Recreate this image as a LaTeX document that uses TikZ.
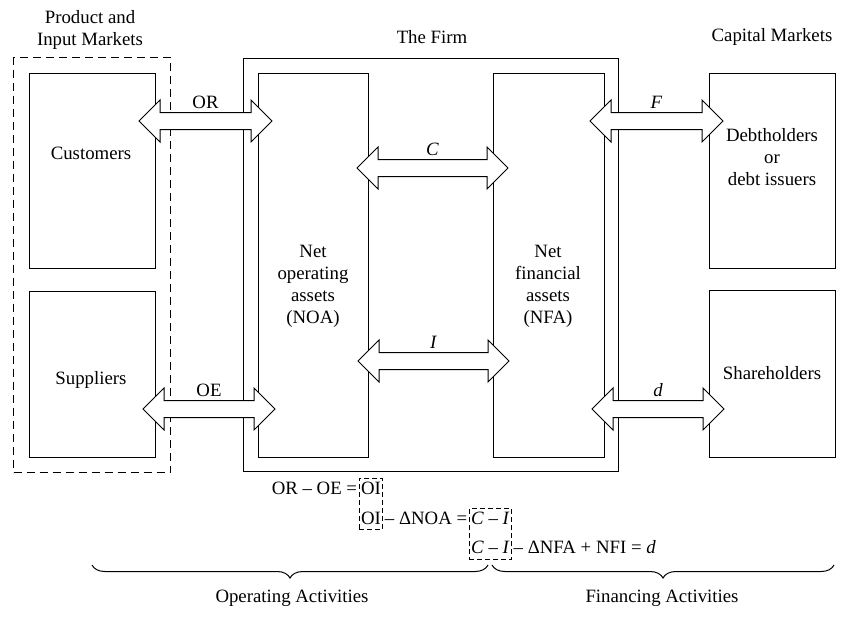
\documentclass[tikz,border=0pt]{standalone}
\usepackage{fontspec}
\setmainfont{Liberation Serif}
\usetikzlibrary{shapes.arrows, positioning, fit, decorations.pathreplacing}
\newcommand{\figfont}{\fontsize{9.4pt}{11pt}\selectfont}
\tikzset{
  base box/.style={
    rectangle, draw, line width=0.5pt, fill=white,
    inner sep=0pt, minimum width=#1
  },
  side box/.style={base box=63pt, minimum height=#1},
  asset box/.style={base box=#1, minimum height=192pt},
  frame/.style={rectangle, draw, line width=0.5pt, inner sep=7pt},
  market frame/.style={frame, dash pattern=on 4pt off 2.5pt, inner sep=7.5pt},
  flow/.style={
    double arrow, draw, fill=white, line width=0.5pt,
    double arrow tip angle=90, double arrow head extend=6.25pt,
    inner xsep=0pt, inner ysep=4pt, minimum width=20.5pt, minimum height=#1
  },
  lbl/.style={font=\figfont, align=center, inner sep=0pt},
  flow lbl/.style={lbl, above=1.5pt of #1.north},
  eqn/.style={font=\figfont, inner sep=0.8pt, text height=6.8pt, text depth=1.6pt},
  eqn box/.style={rectangle, draw, dash pattern=on 2.5pt off 1.5pt, line width=0.5pt, inner sep=0pt},
  activity/.style={decorate, decoration={brace, mirror, amplitude=6.5pt}, line width=0.5pt},
}
\begin{document}
\begin{tikzpicture}[x=0.5pt, y=-0.5pt]
  \useasboundingbox (0,0) rectangle (861,618);

  \node[side box=97.5pt] (cust) at (92,170.5) {};
  \node[side box=83pt] (supp) at (92,374) {};
  \node[asset box=55pt] (noa) at (313,265) {};
  \node[asset box=55.5pt] (nfa) at (548.5,265) {};
  \node[side box=97.5pt] (debt) at (772,170.5) {};
  \node[side box=83.5pt] (share) at (772,373.5) {};

  \node[frame, fit=(noa)(nfa)] (firm) {};
  \node[market frame, fit=(cust)(supp)] (markets) {};

  \node[flow=66.5pt] (orarr) at (205.5,121) {};
  \node[flow=66pt] (oearr) at (209,409) {};
  \node[flow=75.5pt] (carr) at (432.5,168) {};
  \node[flow=75.5pt] (iarr) at (433.5,361) {};
  \node[flow=66.5pt] (farr) at (656.5,121) {};
  \node[flow=66pt] (darr) at (658,409) {};

  \node[flow lbl=orarr] (orlbl) {OR};
  \node[flow lbl=oearr] (oelbl) {OE};
  \node[flow lbl=carr] (clbl) {\textit{C}};
  \node[flow lbl=iarr] (ilbl) {\textit{I}};
  \node[flow lbl=farr] (flbl) {\textit{F}};
  \node[flow lbl=darr] (dlbl) {\textit{d}};

  \node[lbl] (markettitle) at (90,30) {Product and\\Input Markets};
  \node[lbl] (firmtitle) at (432,37) {The Firm};
  \node[lbl] (capitaltitle) at (772,37) {Capital Markets};

  \node[lbl] (custtxt) at (91,153) {Customers};
  \node[lbl] (supptxt) at (91,380) {Suppliers};
  \node[lbl] (noatxt) at (313,286) {Net\\operating\\assets\\(NOA)};
  \node[lbl] (nfatxt) at (548,286) {Net\\financial\\assets\\(NFA)};
  \node[lbl] (debttxt) at (772,157) {Debtholders\\or\\debt issuers};
  \node[lbl] (sharetxt) at (772,373) {Shareholders};

  \node[eqn] (oi1) at (371,489) {OI};
  \node[eqn, below=4.5pt of oi1] (oi2) {OI};
  \node[eqn, anchor=east] (eq1) at (oi1.west) {OR -- OE =};
  \node[eqn, right=0pt of oi2] (eq2) {-- ΔNOA =};
  \node[eqn, right=0pt of eq2] (ci1) {\textit{C} -- \textit{I}};
  \node[eqn, below=4.5pt of ci1] (ci2) {\textit{C} -- \textit{I}};
  \node[eqn, right=0pt of ci2] (eq3) {-- ΔNFA + NFI = \textit{d}};
  \node[eqn box, fit=(oi1)(oi2)] (oibox) {};
  \node[eqn box, fit=(ci1)(ci2)] (cibox) {};

  \coordinate (opl) at (92,565);
  \coordinate (opr) at (488,565);
  \coordinate (fil) at (492,565);
  \coordinate (fir) at (834,565);
  \draw[activity] (opl) -- (opr);
  \draw[activity] (fil) -- (fir);
  \node[lbl] (oplbl) at (292,598) {Operating Activities};
  \node[lbl] (filbl) at (662,598) {Financing Activities};
\end{tikzpicture}
\end{document}
